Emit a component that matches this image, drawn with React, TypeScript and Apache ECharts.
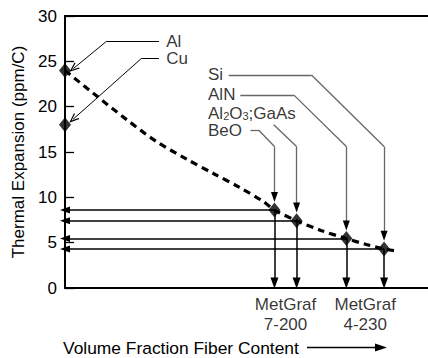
import React, { useEffect, useRef } from 'react';
import * as echarts from 'echarts';

// ---- data ----
const materials = ['Al', 'Cu', 'BeO', 'Al2O3;GaAs', 'AlN', 'Si'];
const fiberFraction = [0, 0, 57.7, 63.8, 77.5, 87.9];
const expansion = [24, 18, 8.6, 7.42, 5.45, 4.3];
const trendX = [0, 7.7, 16.9, 25.2, 33.4, 41, 48.1, 54.6, 57.7, 63.8, 70.5, 77.5, 83, 87.9, 91.7];
const trendY = [24, 21.5, 18.6, 16.15, 14.24, 12.6, 11.1, 9.55, 8.6, 7.42, 6.35, 5.45, 4.8, 4.3, 4.06];
const gradeNames = ['MetGraf\n7-200', 'MetGraf\n4-230'];
const gradeMembers = [['BeO', 'Al2O3;GaAs'], ['AlN', 'Si']];
const yTicks = [0, 5, 10, 15, 20, 25, 30];

// ---- annotation layout (data coordinates) ----
const labelAnchor: Record<string, [number, number]> = {
  Al: [27.9, 27.2],
  Cu: [27.9, 25.3],
  Si: [39.4, 23.5],
  AlN: [39.4, 21.3],
  'Al2O3;GaAs': [39.4, 19.3],
  BeO: [39.4, 17.4],
};
const leaderBends: Record<string, [number, number][]> = {
  Al: [[25.9, 27.2], [11.4, 27.2]],
  Cu: [[25.9, 25.3], [21.0, 25.3]],
  Si: [[45.1, 23.5], [67.9, 23.5], [87.9, 15.6]],
  AlN: [[48.3, 21.3], [63.0, 21.3], [77.5, 15.6]],
  'Al2O3;GaAs': [[57.5, 18.0], [63.8, 15.6]],
  BeO: [[51.1, 17.4], [53.4, 17.4], [57.7, 15.6]],
};
const tipOffset: Record<string, [number, number]> = {
  Al: [2.3, 0.2],
  Cu: [2.2, 0.6],
  Si: [0, 1.45],
  AlN: [0, 1.45],
  'Al2O3;GaAs': [0, 1.45],
  BeO: [0, 1.45],
};

const FONT = "'Liberation Sans', Arial, Helvetica, sans-serif";
const CHEVRON = 'path://M0,10L5,0L10,10L8.4,10L5,3.2L1.6,10Z';

export default function App() {
  const ref = useRef<HTMLDivElement>(null);

  useEffect(() => {
    if (!ref.current) return;
    const chart = echarts.init(ref.current, undefined, { renderer: 'svg' });

    const idx = (m: string) => materials.indexOf(m);

    // leader lines (label -> point)
    const leaderSegs: any[] = [];
    materials.forEach((m, i) => {
      const pts = leaderBends[m].slice();
      const off = tipOffset[m];
      const tip: [number, number] = [fiberFraction[i] + off[0], expansion[i] + off[1]];
      pts.push(tip);
      const isLeft = fiberFraction[i] === 0;
      for (let k = 0; k < pts.length - 1; k++) {
        const last = k === pts.length - 2;
        leaderSegs.push([
          {
            coord: pts[k],
            symbol: 'none',
            lineStyle: isLeft
              ? { color: '#000', width: 1, type: 'solid' }
              : { color: '#666', width: 1.3, type: 'solid' },
          },
          {
            coord: pts[k + 1],
            symbol: last && isLeft ? CHEVRON : 'none',
            symbolSize: last && isLeft ? [8, 10] : 0,
          },
        ]);
      }
      if (!isLeft) {
        // short black piece carrying the filled arrowhead
        leaderSegs.push([
          {
            coord: [tip[0], tip[1] + 0.4],
            symbol: 'none',
            lineStyle: { color: '#000', width: 1.3, type: 'solid' },
          },
          { coord: tip, symbol: 'triangle', symbolSize: [7, 10] },
        ]);
      }
    });

    // projection arrows (point -> axes)
    const projSegs: any[] = [];
    materials.forEach((m, i) => {
      if (fiberFraction[i] === 0) return;
      projSegs.push([
        { coord: [fiberFraction[i], expansion[i]], symbol: 'none' },
        { coord: [0, expansion[i]], symbol: 'triangle', symbolSize: [7, 10] },
      ]);
      projSegs.push([
        { coord: [fiberFraction[i], expansion[i]], symbol: 'none' },
        { coord: [fiberFraction[i], 0.55], symbol: 'triangle', symbolSize: [8, 11] },
      ]);
    });

    const gradeData = gradeNames.map((g, k) => {
      const xs = gradeMembers[k].map((m) => fiberFraction[idx(m)]);
      return { name: g, value: [(xs[0] + xs[1]) / 2, 0] };
    });

    const labelData = materials.map((m) => ({ name: m, value: labelAnchor[m] }));

    const option: any = {
      animation: false,
      backgroundColor: '#fff',
      textStyle: { fontFamily: FONT },
      grid: { left: 65, right: 0, top: 16, bottom: 70 },
      xAxis: [
        {
          type: 'value',
          min: 0,
          max: 100,
          position: 'bottom',
          axisLine: { show: true, onZero: false, lineStyle: { color: '#000', width: 2 } },
          axisTick: { show: false },
          axisLabel: { show: false },
          splitLine: { show: false },
        },
        {
          type: 'value',
          min: 0,
          max: 100,
          position: 'top',
          axisLine: { show: true, onZero: false, lineStyle: { color: '#000', width: 2 } },
          axisTick: { show: false },
          axisLabel: { show: false },
          splitLine: { show: false },
        },
      ],
      yAxis: {
        type: 'value',
        min: yTicks[0],
        max: yTicks[yTicks.length - 1],
        interval: yTicks[1] - yTicks[0],
        name: 'Thermal Expansion (ppm/C)',
        nameLocation: 'middle',
        nameGap: 36,
        nameTextStyle: { color: '#000', fontSize: 17, fontFamily: FONT },
        axisLine: { show: true, onZero: false, lineStyle: { color: '#000', width: 2 } },
        axisTick: { show: true, inside: true, length: 9, lineStyle: { color: '#000', width: 1.3 } },
        axisLabel: { color: '#000', fontSize: 17, fontFamily: FONT, margin: 8 },
        splitLine: { show: false },
      },
      series: [
        {
          type: 'line',
          data: trendX.map((x, i) => [x, trendY[i]]),
          smooth: 0.3,
          showSymbol: false,
          silent: true,
          lineStyle: { color: '#000', width: 3.2, type: [7, 5] },
          z: 2,
        },
        {
          type: 'line',
          data: [],
          silent: true,
          markLine: {
            silent: true,
            animation: false,
            label: { show: false },
            emphasis: { disabled: true },
            lineStyle: { color: '#000', width: 1.5, type: 'solid' },
            data: projSegs,
          },
          z: 3,
        },
        {
          type: 'line',
          data: [],
          silent: true,
          markLine: {
            silent: true,
            animation: false,
            label: { show: false },
            emphasis: { disabled: true },
            lineStyle: { color: '#666', width: 1.3, type: 'solid' },
            data: leaderSegs,
          },
          z: 3,
        },
        {
          type: 'scatter',
          data: materials.map((m, i) => ({ name: m, value: [fiberFraction[i], expansion[i]] })),
          symbol: 'diamond',
          symbolSize: [12, 15],
          itemStyle: { color: '#000' },
          clip: false,
          silent: true,
          z: 5,
        },
        {
          type: 'scatter',
          data: labelData,
          symbolSize: 0,
          silent: true,
          clip: false,
          label: {
            show: true,
            position: 'right',
            distance: 0,
            color: '#000',
            fontSize: 17,
            fontFamily: FONT,
            formatter: (p: any) =>
              p.name === 'Al2O3;GaAs'
                ? '{a|Al}{s|2}{a|O}{s|3}{a|;GaAs}'
                : '{a|' + p.name + '}',
            rich: {
              a: { fontSize: 17, fontFamily: FONT, color: '#000', lineHeight: 17 },
              s: { fontSize: 11, fontFamily: FONT, color: '#000', lineHeight: 8, verticalAlign: 'bottom' },
            },
          },
          z: 6,
        },
        {
          type: 'scatter',
          data: gradeData,
          symbolSize: 0,
          silent: true,
          clip: false,
          label: {
            show: true,
            position: 'bottom',
            distance: 6,
            align: 'center',
            color: '#000',
            fontSize: 17,
            lineHeight: 20,
            fontFamily: FONT,
            formatter: (p: any) => p.name,
          },
          z: 6,
        },
      ],
      graphic: [
        {
          type: 'text',
          x: 63,
          y: 347.5,
          silent: true,
          style: {
            text: 'Volume Fraction Fiber Content',
            fill: '#000',
            fontSize: 17.4,
            fontFamily: FONT,
            verticalAlign: 'middle',
            align: 'left',
          },
        },
        {
          type: 'line',
          silent: true,
          shape: { x1: 307, y1: 347.5, x2: 378, y2: 347.5 },
          style: { stroke: '#000', lineWidth: 1.5 },
        },
        {
          type: 'polygon',
          silent: true,
          shape: { points: [[375, 343.5], [387, 347.5], [375, 351.5]] },
          style: { fill: '#000' },
        },
      ],
    };

    chart.setOption(option);
    return () => chart.dispose();
  }, []);

  return (
    <div
      ref={ref}
      style={{ position: 'fixed', left: 0, top: 0, width: 428, height: 358, background: '#fff' }}
    />
  );
}
